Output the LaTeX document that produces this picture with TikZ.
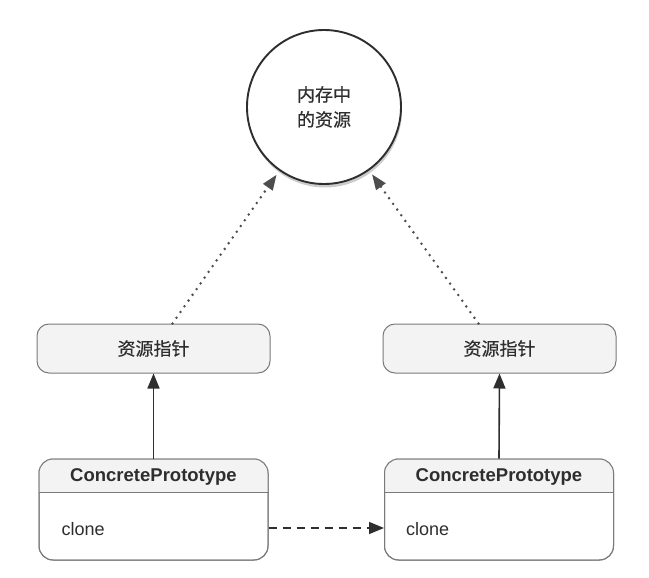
\documentclass[tikz,border=0pt]{standalone}
\usepackage{fontspec}
\setmainfont{Liberation Sans}
\newfontfamily\cjk{Noto Sans CJK SC}[FakeBold=0.5]
\usetikzlibrary{shadows,arrows.meta,calc}
\definecolor{ink}{HTML}{2E2E2E}
\definecolor{edge}{HTML}{7A7A7A}
\definecolor{boxfill}{HTML}{F3F3F3}
\tikzset{
  resnode/.style={circle,draw=ink,line width=1.9pt,fill=white,minimum size=154pt,inner sep=0pt,
    drop shadow={opacity=0.4,shadow xshift=1pt,shadow yshift=-3.5pt},
    font=\cjk\fontsize{18}{25}\selectfont,text=ink,align=center},
  ptrbox/.style={rectangle,rounded corners=12pt,draw=edge,line width=1pt,fill=boxfill,
    minimum width=233pt,minimum height=49pt,inner sep=0pt,font=\cjk\fontsize{18}{22}\selectfont,text=ink},
  classbox/.style={rectangle,rounded corners=14pt,draw=edge,line width=1pt,
    minimum width=229pt,minimum height=101pt,inner sep=0pt},
  classname/.style={font=\bfseries\fontsize{18.5}{22}\selectfont,text=ink,inner sep=0pt},
  oper/.style={font=\fontsize{18}{22}\selectfont,text=ink,inner sep=0pt,anchor=west},
  solidarrow/.style={draw=ink,line width=1.6pt,-{Triangle[length=15pt,width=12pt]}},
  dotarrow/.style={draw=ink!85,line width=2.8pt,line cap=round,dash pattern=on 0pt off 7pt,
    -{Triangle[length=15pt,width=12pt,line width=0pt]},shorten >=5pt},
  dasharrow/.style={draw=ink,line width=1.6pt,dash pattern=on 8pt off 6pt,-{Triangle[length=15pt,width=12pt]}}
}
\begin{document}
\begin{tikzpicture}[x=1pt,y=-1pt]
\useasboundingbox[fill=white] (0,0) rectangle (649,578);
\node[resnode] (res) at (324,107) {内存中\\的资源};
\node[ptrbox] (p1) at (153.5,348.5) {资源指针};
\node[ptrbox] (p2) at (499.5,348.5) {资源指针};
% class boxes
\node[classbox] (c1) at (153.5,509.5) {};
\node[classbox] (c2) at (499,509.5) {};
\begin{scope}
  \clip[rounded corners=14pt] (c1.north west) rectangle (c1.south east);
  \fill[boxfill] (c1.north west) rectangle ($(c1.north east)+(0,34)$);
\end{scope}
\begin{scope}
  \clip[rounded corners=14pt] (c2.north west) rectangle (c2.south east);
  \fill[boxfill] (c2.north west) rectangle ($(c2.north east)+(0,34)$);
\end{scope}
\node[classbox,fill=none] at (c1) {};
\node[classbox,fill=none] at (c2) {};
\draw[edge,line width=1pt] ($(c1.north west)+(0,34)$) -- ($(c1.north east)+(0,34)$);
\draw[edge,line width=1pt] ($(c2.north west)+(0,34)$) -- ($(c2.north east)+(0,34)$);
\node[classname] (n1) at ($(c1.north)+(0,18.5)$) {ConcretePrototype};
\node[classname] (n2) at ($(c2.north)+(0,18.5)$) {ConcretePrototype};
\node[oper] (o1) at ($(c1.west)+(23,20)$) {clone};
\node[oper] (o2) at ($(c2.west)+(22,20)$) {clone};
% connectors
\draw[solidarrow] (c1.north) -- (p1.south);
\draw[solidarrow] (c2.north) -- (p2.south);
\coordinate (s1) at ($(p1.north)+(19,0)$);
\coordinate (s2) at ($(p2.north)+(-21,0)$);
\draw[dotarrow] (s1) -- (res);
\draw[dotarrow] (s2) -- (res);
\coordinate (d1) at ($(c1.east)+(0,18.5)$);
\draw[dasharrow] (d1) -- (d1 -| c2.west);
\end{tikzpicture}
\end{document}
